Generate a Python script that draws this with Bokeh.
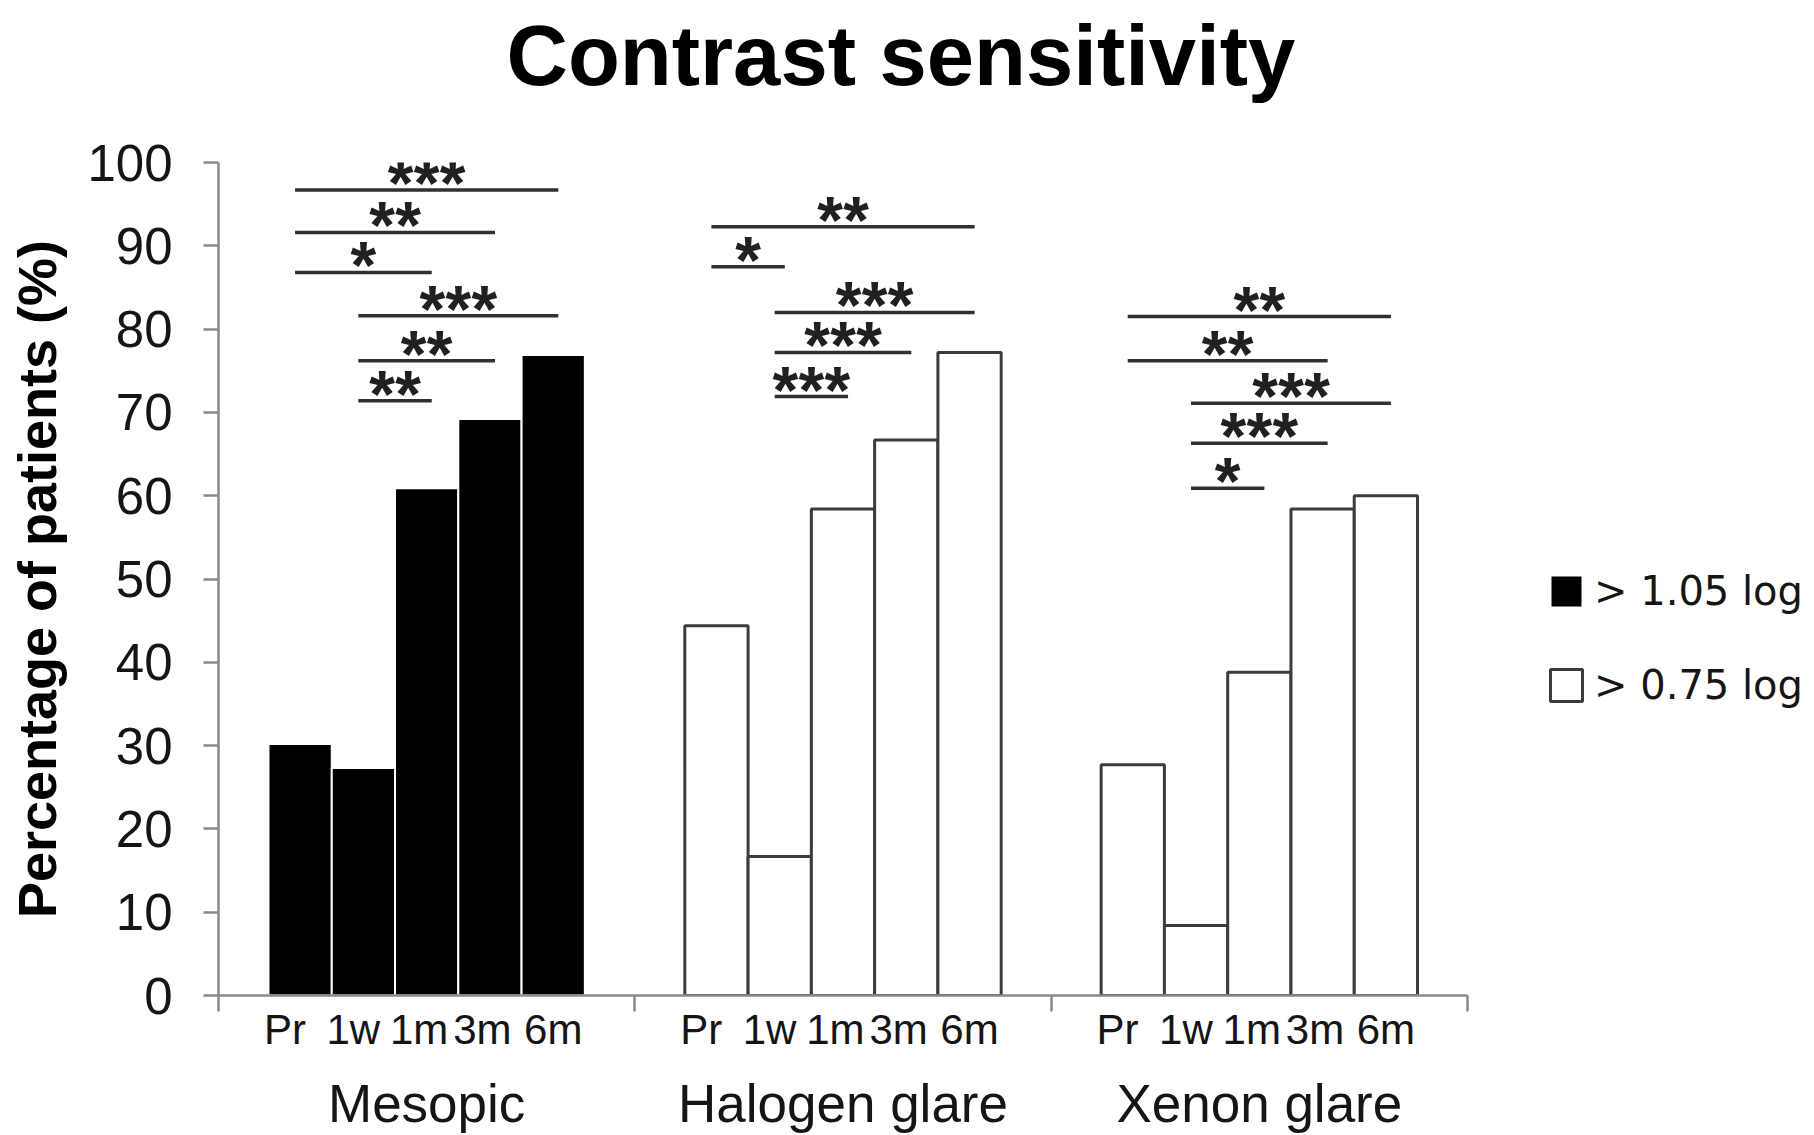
from bokeh.plotting import figure
from bokeh.models import (ColumnDataSource, FixedTicker, LinearAxis, Legend,
                          LegendItem, Range1d, Title)
from bokeh.embed import file_html
from bokeh.resources import INLINE
from bokeh.core.properties import value

# ---------------- data ----------------
groups = ["Mesopic", "Halogen glare", "Xenon glare"]
periods = ["Pr", "1w", "1m", "3m", "6m"]
mesopic = [30.2, 27.3, 60.9, 69.2, 76.9]
halogen = [44.4, 16.7, 58.4, 66.7, 77.2]
xenon = [27.7, 8.4, 38.8, 58.4, 60.0]
y_ticks = [0, 10, 20, 30, 40, 50, 60, 70, 80, 90, 100]
legend_labels = ["> 1.05 log", "> 0.75 log"]

# significance brackets: group index, from, to, label, height (%)
sig_group = [0, 0, 0, 0, 0, 0, 1, 1, 1, 1, 1, 2, 2, 2, 2, 2]
sig_from = ["Pr", "Pr", "Pr", "1w", "1w", "1w",
            "Pr", "Pr", "1w", "1w", "1w",
            "Pr", "Pr", "1w", "1w", "1w"]
sig_to = ["6m", "3m", "1m", "6m", "3m", "1m",
          "6m", "1w", "6m", "3m", "1m",
          "6m", "3m", "6m", "3m", "1m"]
sig_label = ["***", "**", "*", "***", "**", "**",
             "**", "*", "***", "***", "***",
             "**", "**", "***", "***", "*"]
sig_y = [96.7, 91.6, 86.8, 81.6, 76.2, 71.4,
         92.3, 87.5, 82.0, 77.2, 71.9,
         81.5, 76.2, 71.1, 66.3, 60.9]

# ---------------- layout / style ----------------
PAD = 0.79
GROUP = 5 + 2 * PAD
LABEL_DX = [-0.24, -0.16, -0.12, -0.12, 0.0]   # period-label nudges (bar units)
FONT = "Liberation Sans"
AX_COLOR = "#8a8a8a"
TXT = "#151515"
W, H = 1814, 1135
LEFT, TOP, BOTTOM = 218, 162, 139
AXIS_PX = 1249            # pixel length of the category axis
X_END = 3 * GROUP * (W - LEFT) / AXIS_PX   # frame runs to the right edge (legend inside)


def bar_x(g, i):
    return g * GROUP + PAD + i + 0.5


p = figure(width=W, height=H, output_backend="svg", toolbar_location=None,
           x_range=Range1d(0, X_END), y_range=Range1d(0, 100),
           min_border_left=LEFT, min_border_right=0,
           min_border_top=TOP, min_border_bottom=BOTTOM,
           x_axis_location=None, y_axis_location=None, title=None)
p.outline_line_color = None
p.xgrid.visible = False
p.ygrid.visible = False
p.background_fill_color = "white"
p.border_fill_color = "white"

# blank spacer next to the frame, then the title above it
spacer = Title(text=" ", text_font=FONT, text_font_size="2px", standoff=48)
p.add_layout(spacer, "above")
title = Title(text="Contrast sensitivity", text_font=FONT, text_font_size="85px",
              text_font_style="bold", text_color="black", align="left",
              offset=288, vertical_align="top", standoff=12)
p.add_layout(title, "above")

# bars
src_black = ColumnDataSource(dict(x=[bar_x(0, i) for i in range(5)], top=mesopic))
src_white = ColumnDataSource(dict(
    x=[bar_x(1, i) for i in range(5)] + [bar_x(2, i) for i in range(5)],
    top=halogen + xenon))
r_black = p.vbar(x="x", top="top", bottom=0, width=1, source=src_black,
                 fill_color="black", line_color="white", line_width=2)
r_white = p.vbar(x="x", top="top", bottom=0, width=1, source=src_white,
                 fill_color="white", line_color="#3c3c3c", line_width=3)

# significance lines and stars
x0s, x1s, ys = [], [], []
sx, sy, sxo = [], [], []
for g, a, b, lab, yv in zip(sig_group, sig_from, sig_to, sig_label, sig_y):
    xa = bar_x(g, periods.index(a)) - 0.08
    xb = bar_x(g, periods.index(b)) + 0.08
    x0s.append(xa); x1s.append(xb); ys.append(yv)
    n = len(lab)
    for k in range(n):
        sx.append((xa + xb) / 2)
        sy.append(yv)
        sxo.append((k - (n - 1) / 2) * 26)
p.segment(x0=x0s, y0=ys, x1=x1s, y1=ys, line_color="#303030", line_width=3.5)
p.text(x=sx, y=sy, x_offset=sxo, text=["*"] * len(sx), text_font=value(FONT),
       text_font_size="66px", text_font_style="bold", text_align="center",
       text_baseline="alphabetic", y_offset=-7, text_color="#202020")

# y axis
yax = LinearAxis(ticker=FixedTicker(ticks=y_ticks, minor_ticks=[]),
                 axis_label="Percentage of patients (%)")
yax.axis_line_color = AX_COLOR
yax.axis_line_width = 2.5
yax.major_tick_line_color = AX_COLOR
yax.major_tick_line_width = 2.5
yax.major_tick_out = 15
yax.major_tick_in = 0
yax.minor_tick_line_color = None
yax.major_label_standoff = 31
yax.major_label_text_font = FONT
yax.major_label_text_font_size = "51px"
yax.major_label_text_color = TXT
yax.axis_label_text_font = FONT
yax.axis_label_text_font_size = "54px"
yax.axis_label_text_font_style = "bold"
yax.axis_label_text_color = "black"
yax.axis_label_standoff = 17
p.add_layout(yax, "left")

# x axis: period labels + group separators (minor ticks)
centers = [bar_x(g, i) + LABEL_DX[i] for g in range(3) for i in range(5)]
bounds = [g * GROUP for g in range(4)]
xax = LinearAxis(ticker=FixedTicker(ticks=centers, minor_ticks=bounds),
                 bounds=(0, 3 * GROUP))
xax.major_label_overrides = {c: periods[k % 5] for k, c in enumerate(centers)}
xax.axis_line_color = AX_COLOR
xax.axis_line_width = 2.5
xax.major_tick_line_color = None
xax.major_tick_out = 0
xax.major_tick_in = 0
xax.minor_tick_line_color = AX_COLOR
xax.minor_tick_line_width = 2.5
xax.minor_tick_out = 16
xax.minor_tick_in = 0
xax.major_label_standoff = -6
xax.major_label_text_font = FONT
xax.major_label_text_font_size = "42px"
xax.major_label_text_color = TXT
p.add_layout(xax, "below")

gcenters = [g * GROUP + GROUP / 2 for g in range(3)]
gax = LinearAxis(ticker=FixedTicker(ticks=gcenters, minor_ticks=[]),
                 bounds=(0, 3 * GROUP))
gax.major_label_overrides = {c: groups[k] for k, c in enumerate(gcenters)}
gax.axis_line_color = None
gax.major_tick_line_color = None
gax.minor_tick_line_color = None
gax.major_tick_out = 0
gax.major_tick_in = 0
gax.major_label_standoff = 18
gax.major_label_text_font = FONT
gax.major_label_text_font_size = "53px"
gax.major_label_text_color = TXT
p.add_layout(gax, "below")

# legend
legend = Legend(items=[LegendItem(label=legend_labels[0], renderers=[r_black]),
                       LegendItem(label=legend_labels[1], renderers=[r_white])],
                location=(1328, 287))
legend.glyph_width = 40
legend.glyph_height = 40
legend.label_standoff = 8
legend.spacing = 48
legend.padding = 0
legend.margin = 0
legend.border_line_color = None
legend.background_fill_alpha = 0
legend.label_text_font = "DejaVu Sans"
legend.label_text_font_size = "40px"
legend.label_text_color = TXT
p.add_layout(legend)

open("out.html", "w").write(file_html(p, INLINE))
